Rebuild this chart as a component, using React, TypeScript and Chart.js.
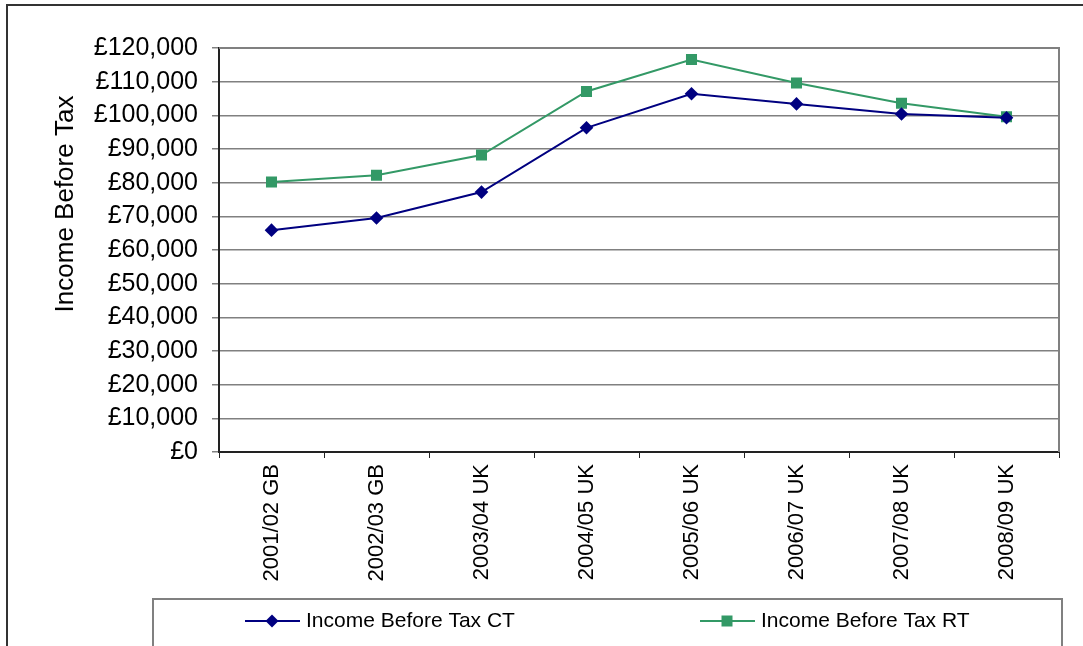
import React, { useEffect, useRef } from "react";
import { Chart, registerables } from "chart.js";

Chart.register(...registerables);

const categories = [
  "2001/02 GB",
  "2002/03 GB",
  "2003/04 UK",
  "2004/05 UK",
  "2005/06 UK",
  "2006/07 UK",
  "2007/08 UK",
  "2008/09 UK",
];
const seriesCT = [65900, 69500, 77200, 96300, 106400, 103400, 100400, 99300];
const seriesRT = [80200, 82200, 88200, 107100, 116600, 109600, 103600, 99600];
const seriesNames = ["Income Before Tax CT", "Income Before Tax RT"];
const yTitle = "Income Before Tax";
const yMin = 0;
const yMax = 120000;
const yStep = 10000;

const FONT = "'Liberation Sans', Arial, sans-serif";
const CT_COLOR = "#000080";
const RT_COLOR = "#339966";

const decorPlugin = {
  id: "decor",
  beforeDatasetsDraw(chart: any) {
    const { ctx, chartArea } = chart;
    ctx.save();
    ctx.strokeStyle = "#808080";
    ctx.lineWidth = 2;
    ctx.beginPath();
    ctx.moveTo(chartArea.left, chartArea.top);
    ctx.lineTo(chartArea.right, chartArea.top);
    ctx.lineTo(chartArea.right, chartArea.bottom);
    ctx.stroke();
    ctx.restore();
  },
  afterDraw(chart: any) {
    const { ctx } = chart;
    ctx.save();
    // outer frame
    ctx.strokeStyle = "#333333";
    ctx.lineWidth = 2;
    ctx.strokeRect(7, 5, 1100, 700);
    // legend frame
    ctx.strokeStyle = "#808080";
    ctx.lineWidth = 2;
    ctx.strokeRect(153, 599, 909, 100);

    // y title
    ctx.fillStyle = "#000";
    ctx.font = `26px ${FONT}`;
    ctx.translate(73, 204);
    ctx.rotate(-Math.PI / 2);
    ctx.textAlign = "center";
    ctx.textBaseline = "alphabetic";
    ctx.fillText(yTitle, 0, 0);
    ctx.restore();

    // legend items
    const items = [
      { x: 245, color: CT_COLOR, style: "diamond", label: seriesNames[0] },
      { x: 700, color: RT_COLOR, style: "square", label: seriesNames[1] },
    ];
    const y = 621;
    ctx.save();
    for (const it of items) {
      ctx.strokeStyle = it.color;
      ctx.lineWidth = 2;
      ctx.beginPath();
      ctx.moveTo(it.x, y);
      ctx.lineTo(it.x + 55, y);
      ctx.stroke();
      ctx.fillStyle = it.color;
      const cx = it.x + 27;
      ctx.beginPath();
      if (it.style === "diamond") {
        ctx.moveTo(cx, y - 6.5);
        ctx.lineTo(cx + 6.5, y);
        ctx.lineTo(cx, y + 6.5);
        ctx.lineTo(cx - 6.5, y);
        ctx.closePath();
      } else {
        ctx.rect(cx - 5.5, y - 5.5, 11, 11);
      }
      ctx.fill();
      ctx.fillStyle = "#000";
      ctx.font = `21px ${FONT}`;
      ctx.textAlign = "left";
      ctx.textBaseline = "middle";
      ctx.fillText(it.label, it.x + 61, y);
    }
    ctx.restore();
  },
};

export default function App() {
  const canvasRef = useRef<HTMLCanvasElement | null>(null);

  useEffect(() => {
    if (!canvasRef.current) return;
    const chart = new Chart(canvasRef.current, {
      type: "line",
      data: {
        labels: categories,
        datasets: [
          {
            label: seriesNames[0],
            data: seriesCT,
            borderColor: CT_COLOR,
            backgroundColor: CT_COLOR,
            borderWidth: 2,
            pointStyle: "rectRot",
            pointRadius: 6.8,
            pointBorderWidth: 0,
            pointBackgroundColor: CT_COLOR,
            tension: 0,
          },
          {
            label: seriesNames[1],
            data: seriesRT,
            borderColor: RT_COLOR,
            backgroundColor: RT_COLOR,
            borderWidth: 2,
            pointStyle: "rect",
            pointRadius: 7.8,
            pointBorderWidth: 0,
            pointBackgroundColor: RT_COLOR,
            tension: 0,
          },
        ],
      },
      options: {
        responsive: false,
        animation: false,
        devicePixelRatio: 1,
        layout: { padding: { left: 0, top: 48, right: 24, bottom: 10 } },
        plugins: {
          legend: { display: false },
          tooltip: { enabled: false },
        },
        scales: {
          x: {
            type: "category",
            offset: true,
            afterFit(scale: any) {
              scale.height = 184;
            },
            grid: {
              display: true,
              drawOnChartArea: false,
              drawTicks: true,
              tickLength: 6,
              tickColor: "#222",
              offset: true,
            },
            border: { display: true, color: "#222", width: 2 },
            ticks: {
              color: "#000",
              font: { family: FONT, size: 22 },
              minRotation: 90,
              maxRotation: 90,
              autoSkip: false,
              padding: 6,
            },
          },
          y: {
            min: yMin,
            max: yMax,
            afterFit(scale: any) {
              scale.width = 219;
            },
            grid: {
              color: "#808080",
              lineWidth: 1.5,
              drawTicks: true,
              tickLength: 7,
              tickColor: "#808080",
            },
            border: { display: true, color: "#222", width: 2 },
            ticks: {
              stepSize: yStep,
              autoSkip: false,
              color: "#000",
              padding: 14,
              font: { family: FONT, size: 25 },
              callback: (v: any) => "£" + Number(v).toLocaleString("en-GB"),
            },
          },
        },
      },
      plugins: [decorPlugin],
    });
    return () => chart.destroy();
  }, []);

  return (
    <div style={{ position: "absolute", left: 0, top: 0, width: 1083, height: 646, background: "#fff" }}>
      <canvas ref={canvasRef} width={1083} height={646} style={{ display: "block" }} />
    </div>
  );
}
